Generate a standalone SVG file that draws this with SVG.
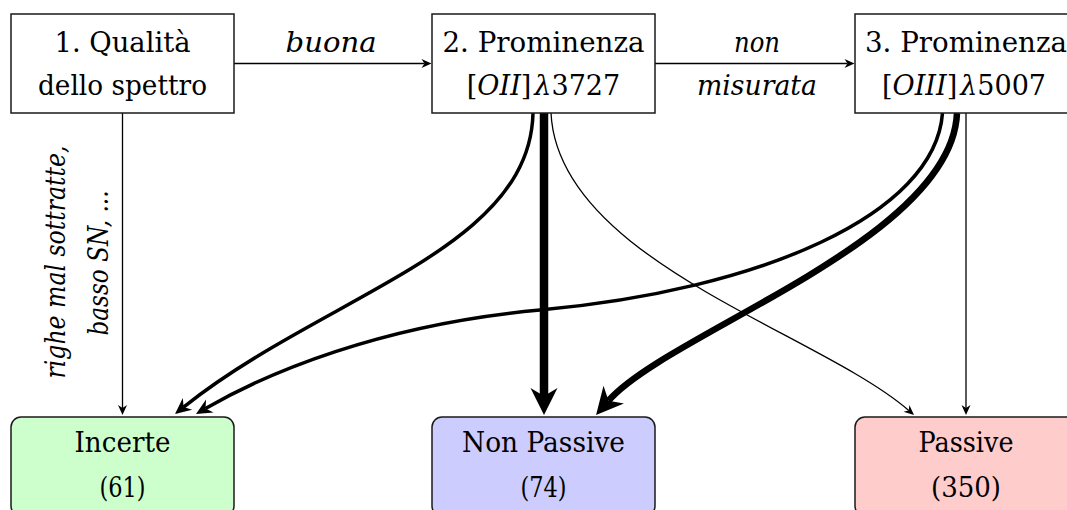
<svg xmlns="http://www.w3.org/2000/svg" width="1067" height="510" viewBox="0 0 1067 510">
  <style>
    .box { fill: #ffffff; stroke: #1a1a1a; stroke-width: 1.5; }
    .t { font-family: "DejaVu Serif", "Liberation Serif", serif; font-size: 27px; fill: #000000; text-anchor: middle; }
    .i { font-style: italic; }
    .lbl { font-size: 28px; }
    .e { fill: none; stroke: #000000; stroke-linecap: butt; }
    .w1 { stroke-width: 1.3; }
    .w2 { stroke-width: 3.5; }
    .w3 { stroke-width: 6.5; }
    .w4 { stroke-width: 8.5; }
  </style>
  <defs>
    <!-- stealth arrow tips, sized per line weight -->
    <marker id="tip-s" markerUnits="userSpaceOnUse" viewBox="0 -5 11 10" markerWidth="11" markerHeight="10" refX="3" refY="0" orient="auto" overflow="visible">
      <path d="M0,-4.5 L10,0 L0,4.5 L3,0 Z" fill="#000"/>
    </marker>
    <marker id="tip-m" markerUnits="userSpaceOnUse" viewBox="0 -8 17 16" markerWidth="17" markerHeight="16" refX="5" refY="0" orient="auto" overflow="visible">
      <path d="M0,-7.5 L16,0 L0,7.5 L5,0 Z" fill="#000"/>
    </marker>
    <marker id="tip-l" markerUnits="userSpaceOnUse" viewBox="0 -14 28 28" markerWidth="28" markerHeight="28" refX="8" refY="0" orient="auto" overflow="visible">
      <path d="M0,-13.5 L27,0 L0,13.5 L8,0 Z" fill="#000"/>
    </marker>
  </defs>

  <!-- connectors -->
  <g id="connectors">
    <path class="e w1" d="M122.5,113 V408" marker-end="url(#tip-s)"/>
    <path class="e w1" d="M234,63.5 H424.5" marker-end="url(#tip-s)"/>
    <path class="e w1" d="M655,63.5 H847.5" marker-end="url(#tip-s)"/>
    <path class="e w2" d="M533,113 C530,250 324,295 183.6,407.1" marker-end="url(#tip-m)"/>
    <path class="e w4" d="M544,113 V396" marker-end="url(#tip-l)"/>
    <path class="e w1" d="M551,113 C558,260 818,332 908.7,410.4" marker-end="url(#tip-s)"/>
    <path class="e w2" d="M942.5,113 C935,215 760,290 540,310 C380,324.5 266,373.5 205.5,408.5" marker-end="url(#tip-m)"/>
    <path class="e w3" d="M957,113 C952,240 667,333 608.5,400.7" marker-end="url(#tip-l)"/>
    <path class="e w1" d="M966,113 V408" marker-end="url(#tip-s)"/>

    <!-- edge labels -->
    <text class="t i lbl" x="331" y="52" textLength="91" lengthAdjust="spacingAndGlyphs">buona</text>
    <text class="t i lbl" x="757" y="52" textLength="46" lengthAdjust="spacingAndGlyphs">non</text>
    <text class="t i lbl" x="757" y="95" textLength="120" lengthAdjust="spacingAndGlyphs">misurata</text>
    <text class="t i" transform="translate(65,262) rotate(-90)" textLength="233" lengthAdjust="spacingAndGlyphs">righe mal sottratte,</text>
    <text class="t i" transform="translate(108,263) rotate(-90)" textLength="145" lengthAdjust="spacingAndGlyphs">basso SN, ...</text>
  </g>

  <!-- step 1 -->
  <g id="n-qualita">
    <rect class="box" x="11" y="14" width="223" height="99"/>
    <text class="t" x="122.5" y="52" textLength="136" lengthAdjust="spacingAndGlyphs">1. Qualità</text>
    <text class="t" x="122.5" y="95" textLength="169" lengthAdjust="spacingAndGlyphs">dello spettro</text>
  </g>

  <!-- step 2 -->
  <g id="n-oii">
    <rect class="box" x="432" y="14" width="223" height="99"/>
    <text class="t" x="543.5" y="52" textLength="202" lengthAdjust="spacingAndGlyphs">2. Prominenza</text>
    <text class="t" x="543.5" y="95">[<tspan class="i">OII</tspan>]<tspan class="i" dx="3">λ</tspan>3727</text>
  </g>

  <!-- step 3 -->
  <g id="n-oiii">
    <rect class="box" x="855" y="14" width="223" height="99"/>
    <text class="t" x="966" y="52" textLength="202" lengthAdjust="spacingAndGlyphs">3. Prominenza</text>
    <text class="t" x="964" y="95">[<tspan class="i">OIII</tspan>]<tspan class="i" dx="3">λ</tspan>5007</text>
  </g>

  <!-- outcomes -->
  <g id="n-incerte">
    <rect class="box" x="11" y="417" width="223" height="99" rx="10" style="fill:#ccffcc"/>
    <text class="t" x="122.5" y="452" textLength="96" lengthAdjust="spacingAndGlyphs">Incerte</text>
    <text class="t" x="122.5" y="497" textLength="46" lengthAdjust="spacingAndGlyphs">(61)</text>
  </g>

  <g id="n-nonpassive">
    <rect class="box" x="432" y="417" width="223" height="99" rx="10" style="fill:#ccccff"/>
    <text class="t" x="543.5" y="452" textLength="163" lengthAdjust="spacingAndGlyphs">Non Passive</text>
    <text class="t" x="543.5" y="497" textLength="46" lengthAdjust="spacingAndGlyphs">(74)</text>
  </g>

  <g id="n-passive">
    <rect class="box" x="855" y="417" width="223" height="99" rx="10" style="fill:#ffcccc"/>
    <text class="t" x="966" y="452" textLength="95" lengthAdjust="spacingAndGlyphs">Passive</text>
    <text class="t" x="966" y="497" textLength="70" lengthAdjust="spacingAndGlyphs">(350)</text>
  </g>
</svg>
